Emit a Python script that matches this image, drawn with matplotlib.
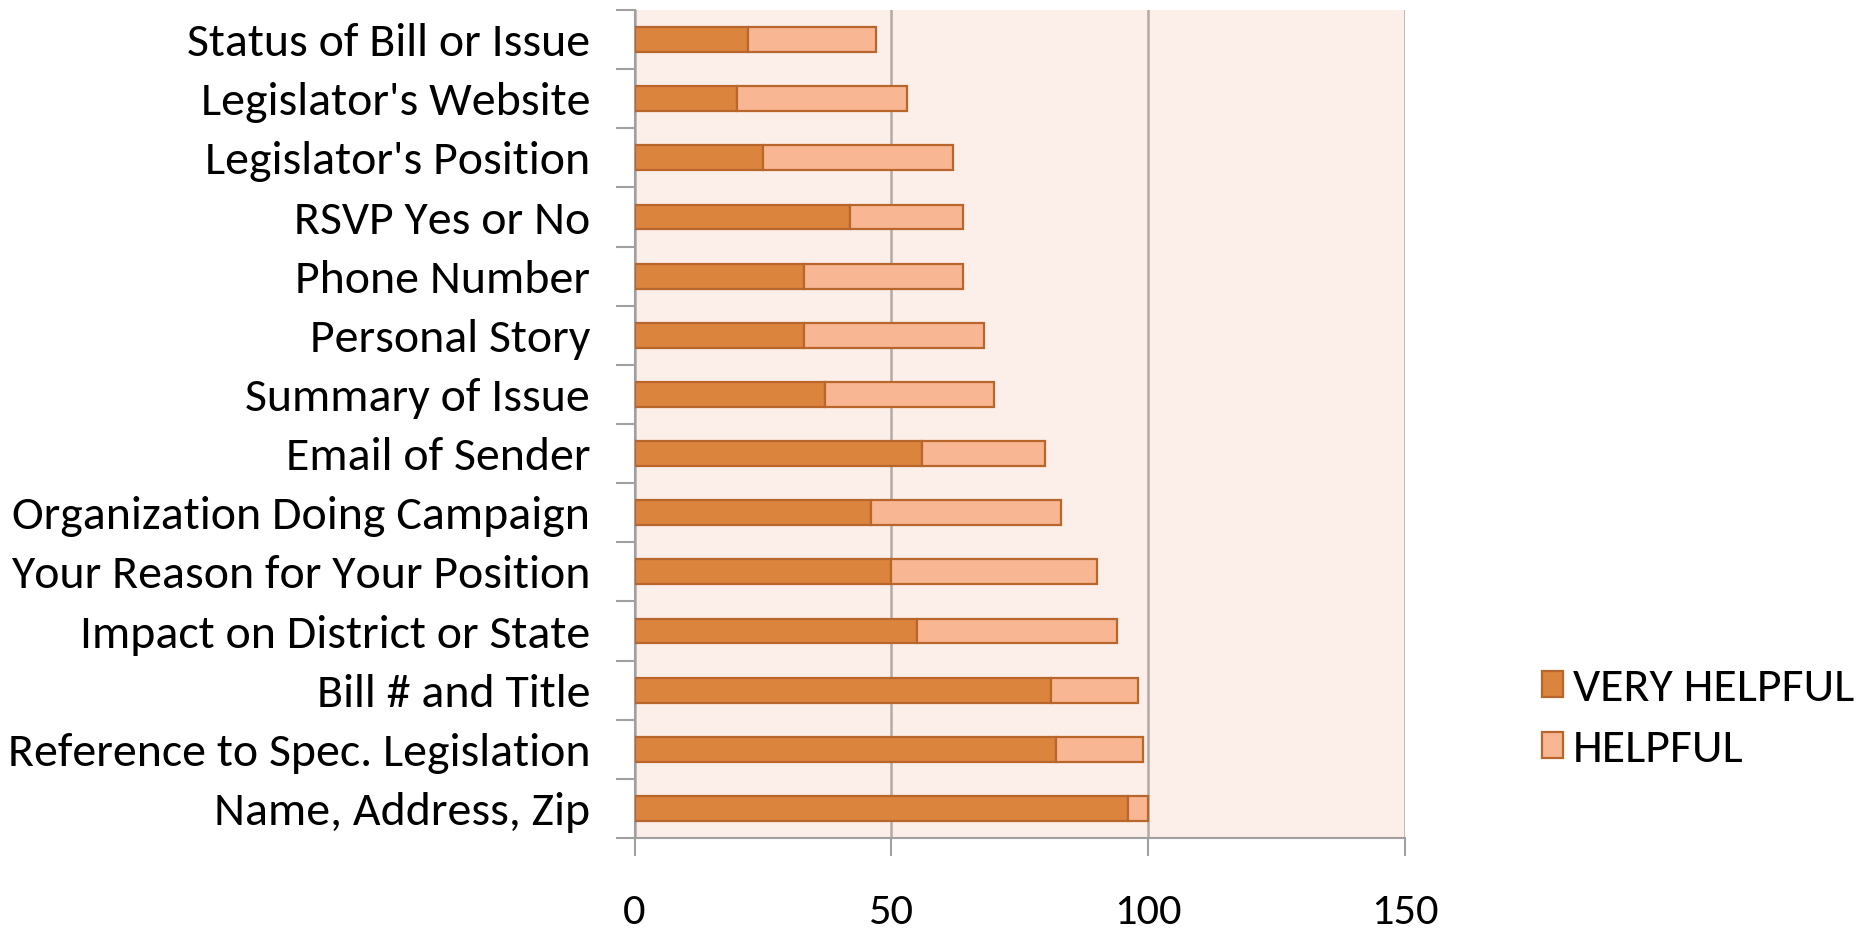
import matplotlib
matplotlib.use("Agg")
import matplotlib.pyplot as plt
import numpy as np

categories = [
    "Name, Address, Zip",
    "Reference to Spec. Legislation",
    "Bill # and Title",
    "Impact on District or State",
    "Your Reason for Your Position",
    "Organization Doing Campaign",
    "Email of Sender",
    "Summary of Issue",
    "Personal Story",
    "Phone Number",
    "RSVP Yes or No",
    "Legislator's Position",
    "Legislator's Website",
    "Status of Bill or Issue",
]
very_helpful = [96, 82, 81, 55, 50, 46, 56, 37, 33, 33, 42, 25, 20, 22]
helpful = [4, 17, 17, 39, 40, 37, 24, 33, 35, 31, 22, 37, 33, 25]
x_ticks = [0, 50, 100, 150]
series_names = ["VERY HELPFUL", "HELPFUL"]

plt.rcParams['font.family'] = ['Carlito', 'DejaVu Sans']

W, H = 1870, 932
fig = plt.figure(figsize=(W / 100, H / 100), dpi=100)
ax = fig.add_axes([634.5 / W, 1 - 838 / H, (1405 - 634.5) / W, (838 - 10) / H])
ax.set_facecolor("#FCEEE9")

y = np.arange(len(categories))
c_vh = "#DB843D"
c_h = "#F9B693"
edge = "#B8662C"
b1 = ax.barh(y, very_helpful, height=0.42, color=c_vh, edgecolor=edge, linewidth=1.6,
             label=series_names[0], zorder=3)
b2 = ax.barh(y, helpful, left=very_helpful, height=0.42, color=c_h, edgecolor=edge,
             linewidth=1.6, label=series_names[1], zorder=3)

ax.set_xlim(0, 150)
ax.set_ylim(-0.5, len(categories) - 0.5)
ax.set_xticks(x_ticks)
ax.set_xticklabels([str(v) for v in x_ticks])
ax.xaxis.grid(True, color="#B3AAA6", linewidth=1.8, zorder=1)
ax.set_axisbelow(True)

ax.set_yticks(y)
ax.set_yticklabels(categories)
ax.set_yticks(np.arange(-0.5, len(categories), 1.0), minor=True)
ax.tick_params(axis="y", which="major", length=0, pad=32, labelsize=34.5, colors="black")
ax.tick_params(axis="y", which="minor", length=14, width=1.5, color="#A0A0A0")
ax.tick_params(axis="x", which="major", length=13, width=1.5, color="#A0A0A0",
               pad=27, labelsize=32, labelcolor="black")

for s in ["top", "right"]:
    ax.spines[s].set_visible(False)
for s in ["left", "bottom"]:
    ax.spines[s].set_color("#A0A0A0")
    ax.spines[s].set_linewidth(1.5)

leg = fig.legend(handles=[b1, b2], labels=series_names, loc="center left",
                 bbox_to_anchor=(1518 / W, 1 - 719 / H), frameon=False, borderpad=0,
                 fontsize=34.5, handlelength=0.43, handleheight=0.48,
                 handletextpad=0.22, labelspacing=0.42)

fig.savefig("out.png", dpi=100)
